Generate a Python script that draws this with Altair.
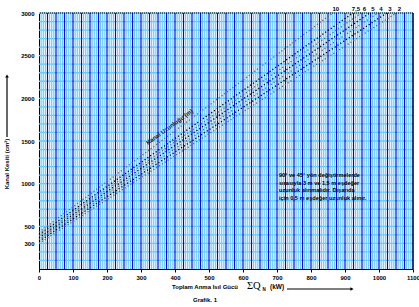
import altair as alt
import pandas as pd
import numpy as np

# ---- data ----
x_ticks = list(range(0, 1101, 100))
y_ticks = [300, 500, 1000, 1500, 2000, 2500, 3000]
lengths = ["10", "7,5", "6", "5", "4", "3", "2"]
start_y = [430, 405, 385, 365, 345, 325, 300]      # cm² at 0 kW
end_x = [864, 923, 948, 973, 997, 1023, 1051]       # kW at 3000 cm²
line_colors = ["#666666", "#000000", "#666666", "#000000", "#666666", "#000000", "#666666"]
note_lines = ["90° ve 45° yön değiştirmelerde", "sırasıyla 3 m ve 1,5 m eşdeğer",
              "uzunluk alınmalıdır. Dışarıda", "için 0,5 m eşdeğer uzunluk alınır."]

W, H = 374, 256
FONT = "Liberation Sans"
LIGHT = "#66CCFF"
DARK = "#0000FF"

xs = alt.Scale(domain=[0, 1100], nice=False, zero=True)
ys = alt.Scale(domain=[0, 3000], nice=False, zero=True)
xaxis = alt.Axis(values=x_ticks, title=None, grid=False, labelFont=FONT, labelFontSize=6,
                 labelFontWeight="bold", labelColor="black", domainColor="black",
                 tickColor="black", tickSize=3, labelPadding=2, labelFlush=False, format="d")
yaxis = alt.Axis(values=y_ticks, title=None, grid=False, labelFont=FONT, labelFontSize=6,
                 labelFontWeight="bold", labelColor="black", domainColor="black",
                 ticks=False, labelPadding=5, format="d")

# grid lines
hgrid_df = pd.DataFrame({"v": list(range(100, 3001, 100))})
minor_df = pd.DataFrame({"v": [m * 25 + k * 6.25 for m in range(44) for k in (1, 2, 3)]})
major_df = pd.DataFrame({"v": list(range(25, 1101, 25))})

hgrid = alt.Chart(hgrid_df).mark_rule(color=LIGHT, strokeWidth=1.3).encode(
    y=alt.Y("v:Q", scale=ys, axis=yaxis))
vminor = alt.Chart(minor_df).mark_rule(color=LIGHT, strokeWidth=1.2).encode(
    x=alt.X("v:Q", scale=xs, axis=xaxis))
vmajor = alt.Chart(major_df).mark_rule(color=DARK, strokeWidth=1.2).encode(
    x=alt.X("v:Q", scale=xs, axis=xaxis))

# diagonal dotted lines
rows = []
for L, y0, x1, c in zip(lengths, start_y, end_x, line_colors):
    rows.append({"len": L, "kw": 0, "cm2": y0, "c": c})
    rows.append({"len": L, "kw": x1, "cm2": 3000, "c": c})
lines_df = pd.DataFrame(rows)
lines = alt.Chart(lines_df).mark_line(strokeDash=[1.2, 2.2], strokeWidth=1.3).encode(
    x=alt.X("kw:Q", scale=xs, axis=xaxis),
    y=alt.Y("cm2:Q", scale=ys, axis=yaxis),
    detail="len:N",
    color=alt.Color("c:N", scale=None))

lab_df = pd.DataFrame({"len": lengths, "kw": end_x})
top_labels = alt.Chart(lab_df).mark_text(font=FONT, fontSize=6, fontWeight="bold",
                                         color="black", dx=3, baseline="bottom").encode(
    x=alt.X("kw:Q", scale=xs, axis=xaxis), y=alt.value(-1), text="len:N")

top_border = alt.Chart(pd.DataFrame({"v": [3000]})).mark_rule(
    color="black", strokeDash=[1, 1], strokeWidth=1.2).encode(y=alt.Y("v:Q", scale=ys, axis=yaxis))
right_border = alt.Chart(pd.DataFrame({"v": [1100]})).mark_rule(
    color="black", strokeWidth=1).encode(x=alt.X("v:Q", scale=xs, axis=xaxis))

uz_df = pd.DataFrame({"kw": [384], "cm2": [1665], "t": ["Kanal Uzunluğu (m)"]})
uz_label = alt.Chart(uz_df).mark_text(font=FONT, fontSize=6, fontWeight="bold",
                                      color="#222222", angle=324).encode(
    x=alt.X("kw:Q", scale=xs, axis=xaxis), y=alt.Y("cm2:Q", scale=ys, axis=yaxis), text="t:N")

note = alt.Chart(pd.DataFrame({"t": [note_lines]})).mark_text(
    font=FONT, fontSize=5.6, fontWeight="bold", color="black", align="left",
    baseline="middle", lineHeight=7.7).encode(
    x=alt.value(240), y=alt.value(162), text="t")

def txt(t, x, y, size=6, weight="bold", font=FONT, align="left", angle=0):
    kw = dict(font=font, fontSize=size, fontWeight=weight, color="black",
              align=align, baseline="middle")
    if angle:
        kw["angle"] = angle
    return alt.Chart(pd.DataFrame({"t": [t]})).mark_text(**kw).encode(
        x=alt.value(x), y=alt.value(y), text="t:N")

y_title = txt("Kanal Kesiti  (cm²)", -32, 151, size=6, align="center", angle=270)
y_arrow = alt.Chart(pd.DataFrame({"a": [0]})).mark_rule(color="black", strokeWidth=1.2).encode(
    x=alt.value(-32), y=alt.value(64), y2=alt.value(124))
y_head = alt.Chart(pd.DataFrame({"a": [0]})).mark_point(
    shape="triangle-up", filled=True, color="black", size=14, opacity=1).encode(
    x=alt.value(-32), y=alt.value(63))

x_title = txt("Toplam Anma Isıl Gücü", 133, 274)
sigma = txt("ΣQ", 208, 273, size=10.5, weight="normal", font="Liberation Serif")
sub = txt("N", 223.5, 276.5, size=4.5, weight="bold")
kw_t = txt("(kW)", 231, 274, size=6.5, weight="bold")
x_arrow = alt.Chart(pd.DataFrame({"a": [0]})).mark_rule(color="black", strokeWidth=1.2).encode(
    x=alt.value(248), x2=alt.value(312), y=alt.value(276))
x_head = alt.Chart(pd.DataFrame({"a": [0]})).mark_point(
    shape="triangle-right", filled=True, color="black", size=14, opacity=1).encode(
    x=alt.value(313), y=alt.value(276))
grafik = txt("Grafik. 1", 166, 287, align="center")

chart = alt.layer(
    hgrid, vminor, vmajor, lines, top_border, right_border, top_labels, uz_label, note,
    y_title, y_arrow, y_head, x_title, sigma, sub, kw_t, x_arrow, x_head, grafik
).properties(
    width=W, height=H, autosize="none",
    padding={"left": 39, "top": 13, "right": 6, "bottom": 38},
    background="white"
).configure_view(stroke=None)

chart.save("out.html", embed_options={"renderer": "svg", "actions": False})
